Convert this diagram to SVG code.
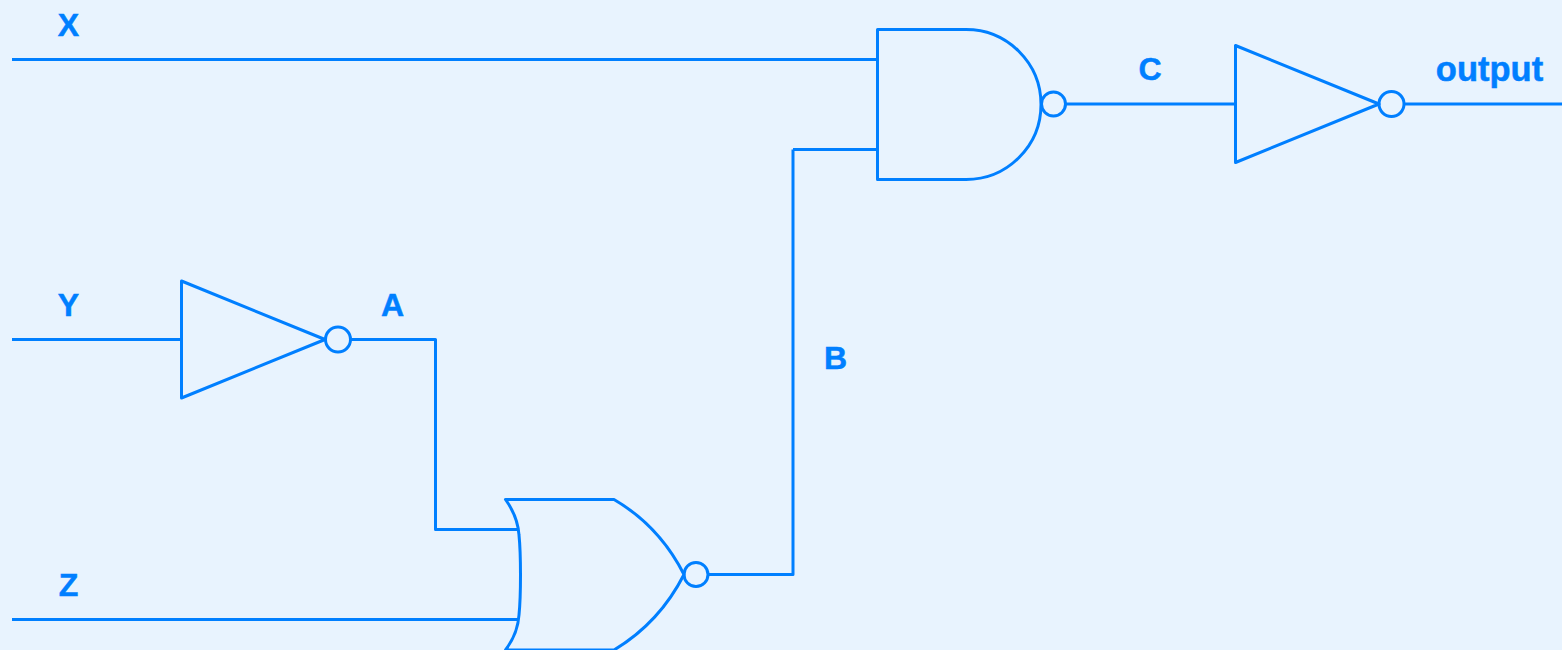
<svg xmlns="http://www.w3.org/2000/svg" width="1562" height="650" viewBox="0 0 1562 650">
<style>
.s{fill:none;stroke:#007fff;stroke-width:3;stroke-linejoin:round;stroke-linecap:round}
.w{fill:none;stroke:#007fff;stroke-width:3;stroke-linecap:butt;stroke-linejoin:round}
text{font-family:"Liberation Sans",Arial,sans-serif;font-weight:700;font-size:32px;fill:#007fff;stroke:#007fff;stroke-width:.5;text-anchor:middle}
</style>
<rect width="1562" height="650" fill="#e8f3fe"/>
<g id="connectors">
<path class="w" d="M12 59.500H877"/>
<path class="w" d="M793 149.500H877"/>
<path class="w" d="M708 574.500H793V149.500"/>
<path class="w" d="M12 339.500H181"/>
<path class="w" d="M351 339.500H435.500V529.500H518"/>
<path class="w" d="M12 619.500H518"/>
<path class="w" d="M1066 104H1235"/>
<path class="w" d="M1405 104H1562"/>
</g>
<g id="not1"><path class="s" d="M181.500 281V398L325 339.500Z"/><circle class="s" cx="338" cy="339.500" r="12.500"/></g>
<g id="nor"><path class="s" d="M505.500 499.500H614C644 517 668 543 684 574.500C668 606 644 632 614 650H505.500C513 640 518 630 519 615C521 595 521 555 519 535C518 520 513 510 505.500 499.500Z"/><circle class="s" cx="696" cy="574.500" r="12"/></g>
<g id="nand"><path class="s" d="M877.500 29.500H966A75 75 0 0 1 966 179.500H877.500Z"/><circle class="s" cx="1053.500" cy="104" r="12"/></g>
<g id="not2"><path class="s" d="M1235.500 45.500V162.500L1379 104Z"/><circle class="s" cx="1391.500" cy="104" r="12.500"/></g>
<g id="labels">
<text x="68.500" y="35.500">X</text>
<text x="68.500" y="315.500">Y</text>
<text x="68.500" y="596">Z</text>
<text x="392.500" y="315.500">A</text>
<text x="835.500" y="368.500">B</text>
<text x="1150" y="79.500">C</text>
<text x="1489.500" y="81" style="font-size:34.500px">output</text>
</g>
</svg>
